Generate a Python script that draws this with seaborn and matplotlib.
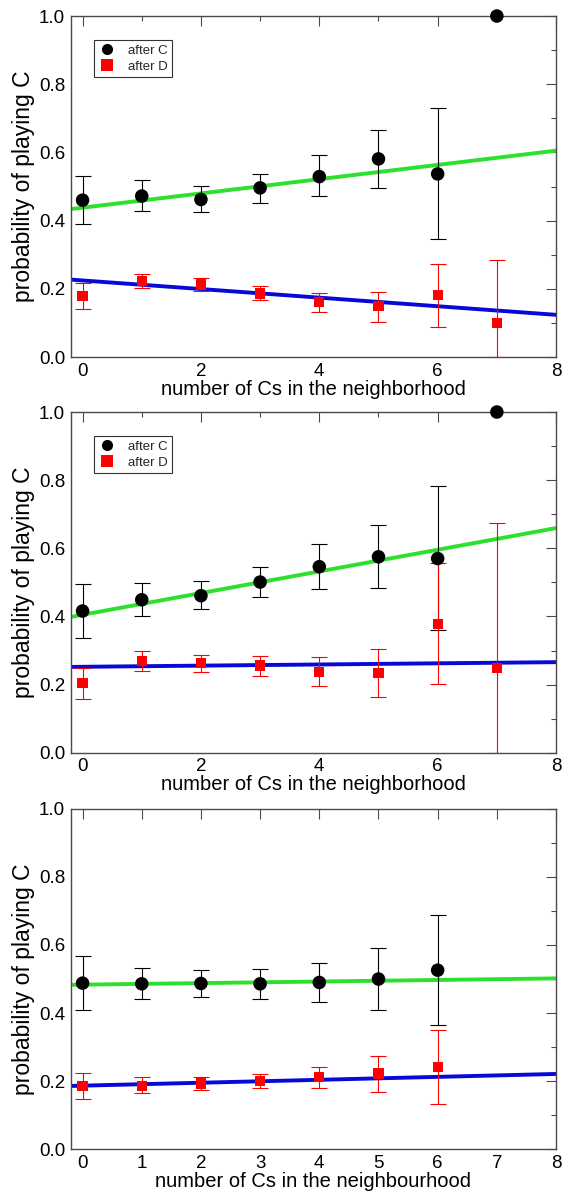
import numpy as np
import pandas as pd
import matplotlib
matplotlib.use("Agg")
import matplotlib.pyplot as plt
from matplotlib.ticker import MultipleLocator, FormatStrFormatter
import seaborn as sns

# ---- data: probability of playing C vs number of Cs in the neighbourhood ----
nan = np.nan

# panel 1
p1_x = [0, 1, 2, 3, 4, 5, 6, 7]
p1_c = [0.460, 0.472, 0.462, 0.496, 0.529, 0.581, 0.537, 1.000]
p1_c_lo = [0.389, 0.429, 0.425, 0.453, 0.471, 0.497, 0.347, nan]
p1_c_hi = [0.532, 0.518, 0.501, 0.538, 0.592, 0.665, 0.730, nan]
p1_d = [0.178, 0.222, 0.213, 0.186, 0.161, 0.149, 0.181, 0.100]
p1_d_lo = [0.141, 0.201, 0.195, 0.167, 0.132, 0.104, 0.087, 0.000]
p1_d_hi = [0.216, 0.243, 0.232, 0.208, 0.187, 0.191, 0.273, 0.284]
p1_fit_c = (0.438, 0.0209)   # intercept, slope
p1_fit_d = (0.2245, -0.0126)

# panel 2
p2_x = [0, 1, 2, 3, 4, 5, 6, 7]
p2_c = [0.416, 0.449, 0.461, 0.501, 0.546, 0.575, 0.570, 1.000]
p2_c_lo = [0.337, 0.401, 0.421, 0.458, 0.481, 0.484, 0.359, nan]
p2_c_hi = [0.496, 0.499, 0.503, 0.546, 0.612, 0.668, 0.782, nan]
p2_d = [0.205, 0.270, 0.264, 0.256, 0.237, 0.234, 0.377, 0.249]
p2_d_lo = [0.158, 0.241, 0.237, 0.226, 0.195, 0.164, 0.201, 0.000]
p2_d_hi = [0.248, 0.299, 0.288, 0.284, 0.280, 0.305, 0.558, 0.674]
p2_fit_c = (0.405, 0.0318)
p2_fit_d = (0.2523, 0.0017)

# panel 3
p3_x = [0, 1, 2, 3, 4, 5, 6]
p3_c = [0.488, 0.486, 0.487, 0.486, 0.490, 0.500, 0.526]
p3_c_lo = [0.410, 0.442, 0.447, 0.442, 0.433, 0.410, 0.365]
p3_c_hi = [0.569, 0.531, 0.526, 0.529, 0.546, 0.592, 0.687]
p3_d = [0.186, 0.187, 0.193, 0.200, 0.212, 0.223, 0.241]
p3_d_lo = [0.148, 0.166, 0.173, 0.179, 0.180, 0.167, 0.132]
p3_d_hi = [0.224, 0.212, 0.213, 0.221, 0.241, 0.275, 0.350]
p3_fit_c = (0.4835, 0.0023)
p3_fit_d = (0.187, 0.0043)

xlabels = ["number of Cs in the neighborhood",
           "number of Cs in the neighborhood",
           "number of Cs in the neighbourhood"]
ylabel = "probability of playing C"

sns.set_theme(style="white")
plt.rcParams["font.family"] = ["Liberation Sans", "DejaVu Sans"]

fig = plt.figure(figsize=(5.64, 11.96), dpi=100)
axes_rects = [
    [0.1254, 0.7015, 0.8605, 0.2851],
    [0.1254, 0.3706, 0.8605, 0.2849],
    [0.1254, 0.0390, 0.8605, 0.2848],
]

panels = [
    (p1_x, p1_c, p1_c_lo, p1_c_hi, p1_d, p1_d_lo, p1_d_hi, p1_fit_c, p1_fit_d, True, 2),
    (p2_x, p2_c, p2_c_lo, p2_c_hi, p2_d, p2_d_lo, p2_d_hi, p2_fit_c, p2_fit_d, True, 2),
    (p3_x, p3_c, p3_c_lo, p3_c_hi, p3_d, p3_d_lo, p3_d_hi, p3_fit_c, p3_fit_d, False, 1),
]

GREEN = "#2ee02e"
BLUE = "#0808d8"
RED = "#ff0000"
FRAME = "#4a4a4a"

for i, (rect, pan) in enumerate(zip(axes_rects, panels)):
    x, c, clo, chi, d, dlo, dhi, fc, fd, show_leg, xmaj = pan
    ax = fig.add_axes(rect)
    ax.set_xlim(-0.2, 8)
    ax.set_ylim(0, 1)

    # linear fits spanning the whole axis
    ax.axline((0, fc[0]), slope=fc[1], color=GREEN, lw=2.8, zorder=2)
    ax.axline((0, fd[0]), slope=fd[1], color=BLUE, lw=2.8, zorder=2)

    xa = np.array(x, float)
    c_a, clo_a, chi_a = (np.array(v, float) for v in (c, clo, chi))
    d_a, dlo_a, dhi_a = (np.array(v, float) for v in (d, dlo, dhi))

    ax.errorbar(xa, c_a, yerr=[c_a - clo_a, chi_a - c_a], fmt="none",
                ecolor="black", elinewidth=0.8, capsize=6, capthick=0.8, zorder=3)
    ax.errorbar(xa, d_a, yerr=[d_a - dlo_a, dhi_a - d_a], fmt="none",
                ecolor=RED, elinewidth=0.8, capsize=6, capthick=0.8, zorder=3)

    df = pd.DataFrame({
        "n": list(x) + list(x),
        "p": list(c) + list(d),
        "series": ["after C"] * len(x) + ["after D"] * len(x),
    })
    sns.scatterplot(data=df, x="n", y="p", hue="series", style="series",
                    size="series",
                    palette={"after C": "black", "after D": RED},
                    markers={"after C": "o", "after D": "s"},
                    sizes={"after C": 95, "after D": 55},
                    edgecolor="none", linewidth=0,
                    legend=show_leg, ax=ax, zorder=4, clip_on=False)

    if show_leg:
        leg = ax.legend(loc="upper left", bbox_to_anchor=(0.048, 0.929),
                        fontsize=9.5, frameon=True, fancybox=False,
                        handletextpad=1.0, borderpad=0.35, labelspacing=0.25,
                        handlelength=1.2, borderaxespad=0)
        leg.get_frame().set_edgecolor("black")
        leg.get_frame().set_linewidth(0.8)
        # legend symbols about equally large
        for h in leg.legend_handles:
            if hasattr(h, "set_markersize"):
                h.set_markersize(8)
    elif ax.get_legend() is not None:
        ax.get_legend().remove()

    ax.xaxis.set_major_locator(MultipleLocator(xmaj))
    if xmaj == 2:
        ax.xaxis.set_minor_locator(MultipleLocator(1))
    ax.yaxis.set_major_locator(MultipleLocator(0.2))
    ax.yaxis.set_minor_locator(MultipleLocator(0.1))
    ax.yaxis.set_major_formatter(FormatStrFormatter("%.1f"))

    ax.tick_params(which="both", direction="in", top=True, right=True,
                   color=FRAME, width=0.8)
    ax.tick_params(which="major", length=7, labelsize=13.5, pad=4, labelcolor="black")
    ax.tick_params(which="minor", length=3.5)
    for s in ax.spines.values():
        s.set_color(FRAME)
        s.set_linewidth(1.0)

    ax.set_xlabel(xlabels[i], fontsize=14.5, labelpad=0, color="black")
    ax.set_ylabel(ylabel, fontsize=16.5, labelpad=3, color="black")

fig.savefig("out.png", dpi=100)
